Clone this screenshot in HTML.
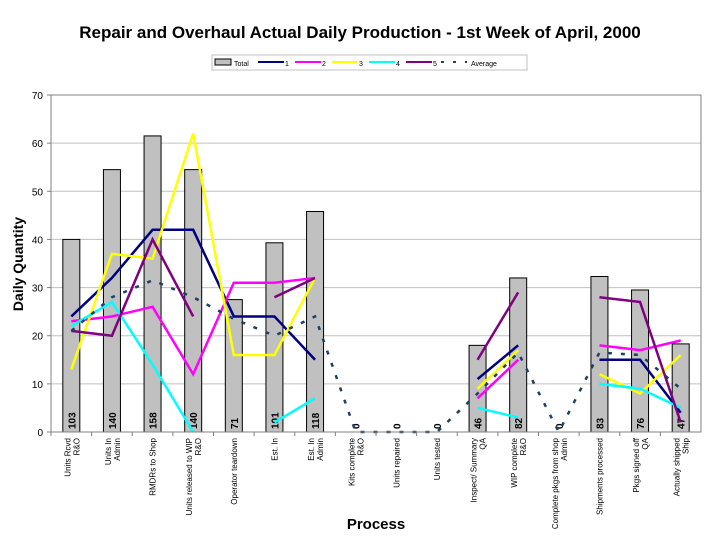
<!DOCTYPE html>
<html><head><meta charset="utf-8"><style>
html,body{margin:0;padding:0;background:#fff;}
svg{display:block;font-family:"Liberation Sans",Arial,sans-serif;}
</style></head><body>
<svg id="chart" width="720" height="540" viewBox="0 0 720 540">
<text x="360" y="38" text-anchor="middle" font-size="17" font-weight="bold">Repair and Overhaul Actual Daily Production - 1st Week of April, 2000</text>
<g id="legend"></g>
<g id="grid"></g><g id="bars"></g><g id="lines"></g><g id="axes"></g>
<text x="376" y="529" text-anchor="middle" font-size="15" font-weight="bold">Process</text>
<text transform="translate(23,264) rotate(-90)" text-anchor="middle" font-size="14" font-weight="bold">Daily Quantity</text>
</svg>
<script>
const categories=[["Units Rcvd","R&O"],["Units In","Admin"],["RMDRs to Shop"],["Units released to WIP","R&O"],["Operator teardown"],["Est. In"],["Est. In","Admin"],["Kits complete","R&O"],["Units repaired"],["Units tested"],["Inspect/ Summary","QA"],["WIP complete","R&O"],["Complete pkgs from shop","Admin"],["Shipments processed"],["Pkgs signed off","QA"],["Actually shipped","Ship"]];
const totalBar=[40,54.5,61.5,54.5,27.5,39.3,45.8,0,0,0,18,32,0,32.3,29.5,18.3];
const totalLabels=["103","140","158","140","71","101","118","0","0","0","46","82","0","83","76","47"];
const s1=[24,32,42,42,24,24,15,null,null,null,11,18,null,15,15,4];
const s2=[23,24,26,12,31,31,32,null,null,null,7,15,null,18,17,19];
const s3=[13,37,36,62,16,16,32,null,null,null,9,17,null,12,8,16];
const s4=[22,27,14,0,null,2,7,null,null,null,5,3,null,10,9,5];
const s5=[21,20,40,24,null,28,32,null,null,null,15,29,null,28,27,2];
const avg=[21,28,31.5,28,23.5,20,24,0,0,0,8,16.5,0,16.5,16,9];
const yTicks=[0,10,20,30,40,50,60,70];
const NS="http://www.w3.org/2000/svg";
const L=51,R=701,T=95,B=432,YMAX=70;
const band=(R-L)/categories.length;
const xs=i=>L+band*(i+0.5);
const ys=v=>B-(v/YMAX)*(B-T);
function mk(tag,attrs,parent){const e=document.createElementNS(NS,tag);for(const k in attrs)e.setAttribute(k,attrs[k]);parent.appendChild(e);return e;}
const g=document.getElementById('grid'),gb=document.getElementById('bars'),gl=document.getElementById('lines'),ga=document.getElementById('axes'),lg=document.getElementById('legend');
yTicks.forEach(t=>{
 const ln=mk('line',{x1:L,x2:R,y1:ys(t),y2:ys(t),stroke:'#c0c0c0','stroke-width':1},g);
 
 
 const tx=mk('text',{x:L-8,y:ys(t)+4,'text-anchor':'end','font-size':10},ga);tx.textContent=t;
 
 
 mk('line',{x1:L-4,x2:L,y1:ys(t),y2:ys(t),stroke:'#808080'},ga);
});
mk('rect',{x:L,y:T,width:R-L,height:B-T,fill:'none',stroke:'#808080'},ga);
const bw=17;
totalBar.forEach((v,i)=>{
 const r=mk('rect',{x:xs(i)-bw/2,y:ys(v),width:bw,height:B-ys(v),fill:'#c0c0c0',stroke:'#000','stroke-width':1},gb);
 
 
 const t=mk('text',{transform:`translate(${xs(i)+4},${B-3}) rotate(-90)`,'font-size':10,'font-weight':'bold'},gb);
 t.textContent=totalLabels[i];
 
 
 mk('line',{x1:L+band*i,x2:L+band*i,y1:B,y2:B+4,stroke:'#808080'},ga);
 const ct=mk('text',{transform:`translate(${xs(i)},${B+6}) rotate(-90)`,'text-anchor':'end','font-size':8},ga);
 
 
 const lines=categories[i];
 lines.forEach((s,k)=>{const ts=mk('tspan',{x:0,dy:k==0?(lines.length==1?3:-1):9,'text-anchor':'middle'},ct);ts.textContent=s;});
 ct.setAttribute('text-anchor','end');
 ct.childNodes.forEach(ts=>ts.setAttribute('text-anchor','end'));
});
const series=[[s1,'#000080','series-1'],[s2,'#ff00ff','series-2'],[s3,'#ffff00','series-3'],[s4,'#00ffff','series-4'],[s5,'#800080','series-5']];
function drawLine(arr,col,name,dash){
 let segs=[],cur=[];
 arr.forEach((v,i)=>{if(v===null){if(cur.length)segs.push(cur);cur=[];}else cur.push([xs(i),ys(v)]);});
 if(cur.length)segs.push(cur);
 segs.forEach((sg,j)=>{if(sg.length<2)return;
  const p=mk('polyline',{points:sg.map(q=>q.join(',')).join(' '),fill:'none',stroke:col,'stroke-width':dash?2.5:2.5,'stroke-dasharray':dash?'4,9':'none','stroke-linejoin':'miter'},gl);
  
  
 });
}
series.forEach(s=>drawLine(s[0],s[1],s[2],false));
drawLine(avg,'#1f4060','average',true);
// legend
mk('rect',{x:212,y:55,width:315,height:15,fill:'#fff',stroke:'#c0c0c0'},lg);
mk('rect',{x:215,y:59,width:16,height:6,fill:'#c0c0c0',stroke:'#000'},lg);
let lx=234;
const lt=(x,s)=>{const t=mk('text',{x:x,y:66,'font-size':7},lg);t.textContent=s;};
lt(lx,'Total');lx=258;
series.forEach((s,i)=>{const l=mk('line',{x1:lx,x2:lx+26,y1:62,y2:62,stroke:s[1],'stroke-width':2},lg);lt(lx+27,String(i+1));lx+=37;});
const la=mk('line',{x1:lx-2,x2:lx+24,y1:62,y2:62,stroke:'#1f4060','stroke-width':2,'stroke-dasharray':'3,9'},lg);


lt(lx+28,'Average');
</script>
</body></html>
